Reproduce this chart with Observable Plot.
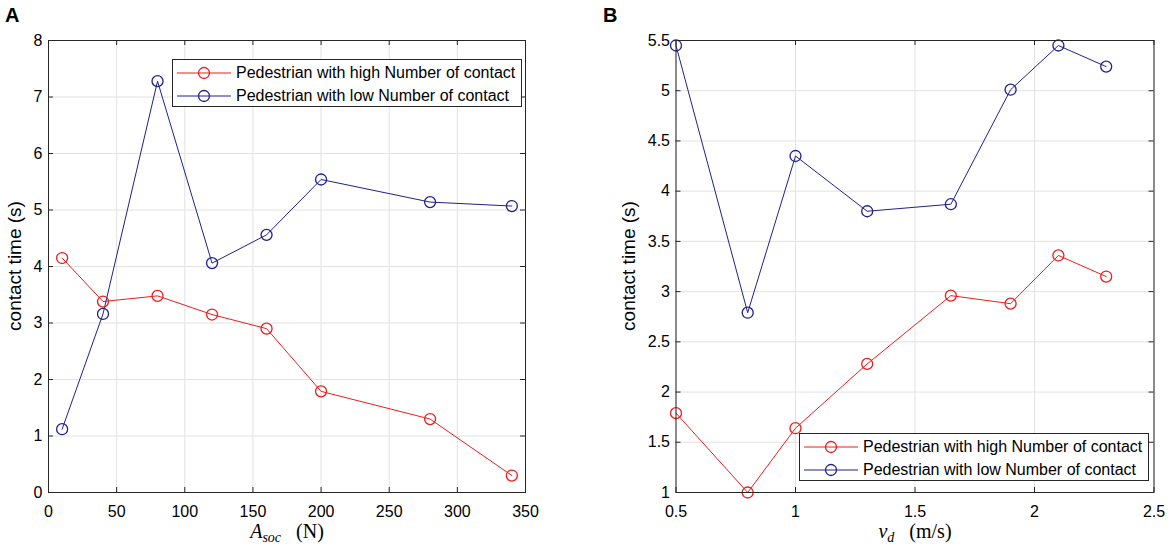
<!DOCTYPE html>
<html><head><meta charset="utf-8">
<script src="https://cdn.jsdelivr.net/npm/d3@7"></script>
<script src="https://cdn.jsdelivr.net/npm/@observablehq/plot@0.6"></script>
<style>
body{margin:0;background:#fff;}
#wrap{position:relative;width:1170px;height:551px;font-family:"Liberation Sans",Arial,sans-serif;color:#000;overflow:hidden;background:#fff}
.panel{position:absolute;top:0}
.letter{position:absolute;font-weight:bold;font-size:20px;line-height:1}
.ytitle{position:absolute;font-size:19px;transform:translate(-50%,-50%) rotate(-90deg);white-space:nowrap;line-height:1}
.xtitle{position:absolute;font-family:"Liberation Serif","DejaVu Serif",serif;font-size:20px;transform:translate(-50%,-50%);white-space:nowrap;line-height:1}
.xtitle sub{font-size:14px;vertical-align:-4px}
.legend{position:absolute;border:1px solid #262626;background:#fff;width:350px;height:48px;box-sizing:border-box}
.lrow{position:absolute;left:4px;height:20px;display:flex;align-items:center;font-size:16px;white-space:nowrap}
.lrow svg{margin-right:5px}
</style></head>
<body>
<div id="wrap">
  <div class="letter" style="left:5px;top:5px">A</div>
  <div class="letter" style="left:603px;top:5px">B</div>
  <div id="pA" class="panel" style="left:0px"></div>
  <div id="pB" class="panel" style="left:590px"></div>
  <div class="ytitle" style="left:14px;top:266px">contact time (s)</div>
  <div class="ytitle" style="left:628px;top:266px">contact time (s)</div>
  <div class="xtitle" style="left:287px;top:533px"><i>A</i><sub><i>soc</i></sub>&nbsp;&nbsp;&nbsp;(N)</div>
  <div class="xtitle" style="left:915px;top:533px"><i>v</i><sub><i>d</i></sub>&nbsp;&nbsp;&nbsp;(m/s)</div>
  <div id="legA" class="legend" style="left:172px;top:59px"></div>
  <div id="legB" class="legend" style="left:799px;top:433px"></div>
</div>
<script>
// ---- data ----
const xA = [10, 40, 80, 120, 160, 200, 280, 340];
const highA = [4.15, 3.38, 3.48, 3.15, 2.90, 1.79, 1.30, 0.30];
const lowA = [1.12, 3.16, 7.28, 4.06, 4.56, 5.54, 5.14, 5.07];
const xTicksA = [0, 50, 100, 150, 200, 250, 300, 350];
const yTicksA = [0, 1, 2, 3, 4, 5, 6, 7, 8];

const xB = [0.5, 0.8, 1.0, 1.3, 1.65, 1.9, 2.1, 2.3];
const highB = [1.79, 1.00, 1.64, 2.28, 2.96, 2.88, 3.36, 3.15];
const lowB = [5.45, 2.79, 4.35, 3.80, 3.87, 5.01, 5.45, 5.24];
const xTicksB = [0.5, 1, 1.5, 2, 2.5];
const yTicksB = [1, 1.5, 2, 2.5, 3, 3.5, 4, 4.5, 5, 5.5];

const seriesNames = ["Pedestrian with high Number of contact", "Pedestrian with low Number of contact"];
const RED = "#ee1c1c";
const BLUE = "#20208f";
const AXIS = "#262626";
const GRID = "#e2e2e2";

function panel(xs, hi, lo, xTicks, yTicks, width, ml, mr) {
  const H = 551, mt = 40, mb = 59;
  const innerH = H - mt - mb, innerW = width - ml - mr;
  const hiData = xs.map((x, i) => ({x, y: hi[i]}));
  const loData = xs.map((x, i) => ({x, y: lo[i]}));
  const fmt = d => String(d);
  return Plot.plot({
    width, height: H, marginLeft: ml, marginRight: mr, marginTop: mt, marginBottom: mb,
    style: {fontFamily: "'Liberation Sans', Arial, sans-serif", fontSize: "16px", color: "#000", background: "transparent", overflow: "visible"},
    x: {domain: [xTicks[0], xTicks[xTicks.length - 1]]},
    y: {domain: [yTicks[0], yTicks[yTicks.length - 1]]},
    marks: [
      Plot.gridX(xTicks, {stroke: GRID, strokeOpacity: 1}),
      Plot.gridY(yTicks, {stroke: GRID, strokeOpacity: 1}),
      Plot.tickX(xTicks, {x: d => d, stroke: AXIS, insetTop: innerH - 5}),
      Plot.tickX(xTicks, {x: d => d, stroke: AXIS, insetBottom: innerH - 5}),
      Plot.tickY(yTicks, {y: d => d, stroke: AXIS, insetRight: innerW - 5}),
      Plot.tickY(yTicks, {y: d => d, stroke: AXIS, insetLeft: innerW - 5}),
      Plot.axisX(xTicks, {tickSize: 0, tickPadding: 13, fontSize: 16, tickFormat: fmt, label: null}),
      Plot.axisY(yTicks, {tickSize: 0, tickPadding: 6, fontSize: 16, tickFormat: fmt, label: null}),
      Plot.line(hiData, {x: "x", y: "y", stroke: RED, strokeWidth: 1}),
      Plot.line(loData, {x: "x", y: "y", stroke: BLUE, strokeWidth: 1}),
      Plot.dot(hiData, {x: "x", y: "y", r: 5.5, stroke: RED, fill: "none", strokeWidth: 1.3}),
      Plot.dot(loData, {x: "x", y: "y", r: 5.5, stroke: BLUE, fill: "none", strokeWidth: 1.3}),
      Plot.frame({stroke: AXIS, strokeWidth: 1})
    ]
  });
}

document.getElementById("pA").append(panel(xA, highA, lowA, xTicksA, yTicksA, 590, 48, 65));
document.getElementById("pB").append(panel(xB, highB, lowB, xTicksB, yTicksB, 580, 85.5, 16.5));

function legend(el) {
  const colors = [RED, BLUE];
  seriesNames.forEach((name, i) => {
    const row = document.createElement("div");
    row.className = "lrow";
    row.style.top = (3 + i * 22.5) + "px";
    row.innerHTML = `<svg width="54" height="16"><line x1="0" x2="54" y1="8" y2="8" stroke="${colors[i]}" stroke-width="1"/><circle cx="27" cy="8" r="5.5" fill="none" stroke="${colors[i]}" stroke-width="1.3"/></svg><span>${name}</span>`;
    el.append(row);
  });
}
legend(document.getElementById("legA"));
legend(document.getElementById("legB"));
</script>
</body></html>
